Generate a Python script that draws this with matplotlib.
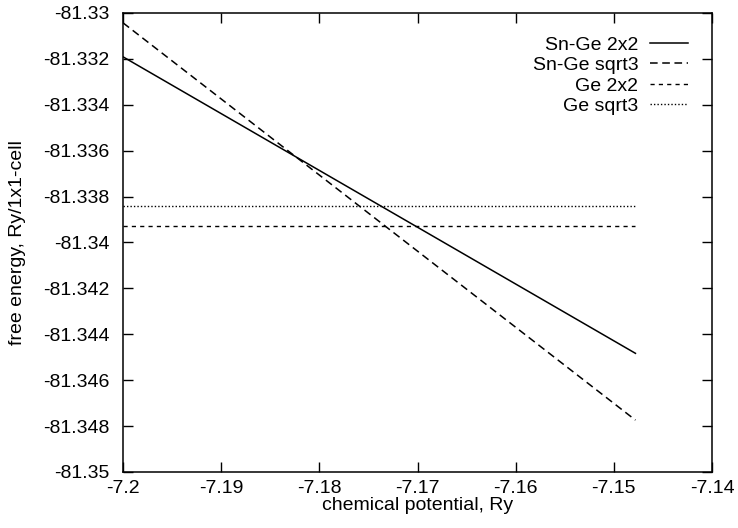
import matplotlib
matplotlib.use('Agg')
from matplotlib import pyplot as plt

plt.rcParams['font.family'] = ['Liberation Sans', 'DejaVu Sans']

# chemical potential range (Ry)
mu = [-7.2, -7.1478]

# free energies at the two end points (Ry / 1x1 cell)
snge_2x2 = [-81.33191, -81.34483]
snge_sqrt3 = [-81.33043, -81.34774]
ge_2x2 = [-81.33928, -81.33928]
ge_sqrt3 = [-81.33841, -81.33841]

labels = ['Sn-Ge 2x2', 'Sn-Ge sqrt3', 'Ge 2x2', 'Ge sqrt3']
xticks = [-7.2, -7.19, -7.18, -7.17, -7.16, -7.15, -7.14]
yticks = [-81.33, -81.332, -81.334, -81.336, -81.338, -81.34,
          -81.342, -81.344, -81.346, -81.348, -81.35]

fig = plt.figure(figsize=(7.38, 5.28), dpi=100)
ax = fig.add_axes([0.1667, 0.1061, 0.7981, 0.8693])

ax.plot(mu, snge_2x2, color='black', lw=1.1, ls='-', label=labels[0])
ax.plot(mu, snge_sqrt3, color='black', lw=1.1, ls=(0, (5, 3)), label=labels[1])
ax.plot(mu, ge_2x2, color='black', lw=1.0, ls=(0, (3, 3)), label=labels[2])
ax.plot(mu, ge_sqrt3, color='black', lw=1.0, ls=(0, (1, 1.5)), label=labels[3])

ax.set_xlim(-7.2, -7.14)
ax.set_ylim(-81.35, -81.33)
ax.set_xticks(xticks)
ax.set_xticklabels([str(t) for t in xticks])
ax.set_yticks(yticks)
ax.set_yticklabels([('%g' % t) for t in yticks])
ax.tick_params(direction='in', top=True, right=True, length=7, width=1,
               labelsize=14)
ax.tick_params(axis='x', pad=6)
ax.tick_params(axis='y', pad=10)
for s in ax.spines.values():
    s.set_linewidth(1.1)

ax.set_xlabel('chemical potential, Ry', fontsize=14, labelpad=0)
ax.set_ylabel('free energy, Ry/1x1-cell', fontsize=14, labelpad=12)

ax.legend(loc='upper right', bbox_to_anchor=(0.9593, 0.950), frameon=False,
          markerfirst=False, fontsize=14, handlelength=1.95,
          labelspacing=0.15, borderaxespad=0, borderpad=0,
          handletextpad=0.6)

fig.savefig('out.png', dpi=100)
